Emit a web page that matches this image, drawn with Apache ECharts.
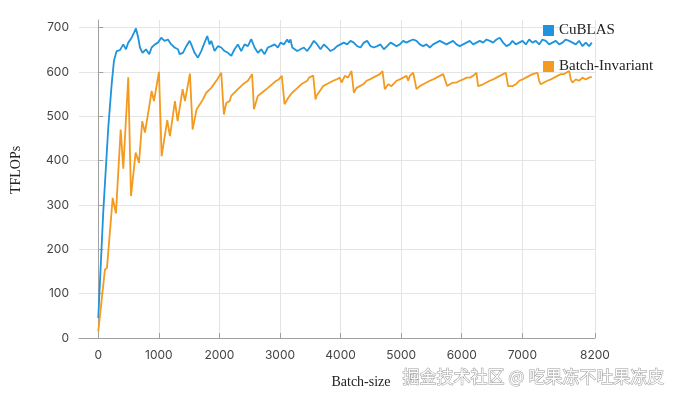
<!DOCTYPE html>
<html>
<head>
<meta charset="utf-8">
<script src="https://cdn.jsdelivr.net/npm/echarts@6/dist/echarts.min.js"></script>
<style>
	html, body { margin: 0; padding: 0; background: #fff; }
	#chart { width: 678px; height: 398px; }
</style>
</head>
<body>
<div id="chart"></div>
<script>
// 刻度
var xTicks = [0, 1000, 2000, 3000, 4000, 5000, 6000, 7000, 8200];
var yTicks = [0, 100, 200, 300, 400, 500, 600, 700];

// CuBLAS
var cublasBatch = [0, 83, 165, 221, 259, 303, 358, 413, 457, 495, 551, 589, 622, 660, 688, 732, 787, 842, 881, 936,
	985, 1040, 1095, 1150, 1205, 1260, 1315, 1343, 1398, 1453, 1508, 1535, 1590, 1645, 1700, 1755, 1799, 1838, 1865, 1920,
	1975, 2030, 2085, 2140, 2195, 2250, 2305, 2360, 2415, 2470, 2525, 2580, 2635, 2690, 2745, 2800, 2855, 2910, 2965,
	3009, 3064, 3119, 3147, 3174, 3202, 3229, 3284, 3339, 3394, 3449, 3504, 3559, 3587, 3614, 3669, 3724, 3779, 3834, 3862,
	3889, 3944, 3999, 4054, 4109, 4164, 4219, 4274, 4329, 4384, 4439, 4494, 4549, 4604, 4659, 4714, 4769, 4824, 4879,
	4923, 4978, 5033, 5088, 5143, 5198, 5226, 5253, 5308, 5363, 5418, 5473, 5528, 5583, 5638, 5693, 5748, 5803, 5858, 5913,
	5968, 5996, 6023, 6078, 6133, 6188, 6243, 6298, 6353, 6408, 6463, 6518, 6573, 6628, 6683, 6738, 6793,
	6838, 6893, 6948, 7003, 7058, 7113, 7168, 7223, 7278, 7333, 7388, 7443, 7498, 7553, 7608, 7663, 7718, 7773, 7828, 7883,
	7938, 7993, 8048, 8103, 8147];
var cublasTflops = [45, 286, 474, 572, 625, 647, 649, 662, 651, 666, 677, 688, 698, 677, 655, 643, 651, 640, 655, 662,
	666, 677, 670, 673, 662, 655, 651, 640, 643, 658, 670, 662, 643, 632, 647, 666, 681, 662, 670, 647,
	658, 655, 647, 643, 636, 651, 662, 647, 662, 658, 674, 655, 643, 651, 640, 655, 658, 662, 655,
	666, 662, 673, 666, 673, 655, 651, 647, 651, 655, 647, 658, 670, 673, 662, 651, 662, 655, 647, 643,
	651, 658, 662, 666, 662, 670, 666, 658, 655, 666, 670, 658, 655, 658, 662, 651, 658, 666, 662,
	658, 662, 670, 666, 670, 673, 677, 670, 662, 658, 662, 655, 662, 666, 670, 666, 662, 666, 670, 662,
	658, 655, 662, 666, 670, 662, 666, 670, 666, 673, 670, 666, 673, 677, 666, 658, 662,
	670, 662, 666, 670, 662, 673, 666, 670, 662, 673, 670, 662, 666, 670, 662, 666, 673, 670, 666, 662,
	670, 658, 666, 658, 666];

// Batch-Invariant
var biBatch = [0, 110, 144, 238, 292, 370, 413, 495, 540, 617, 672, 726, 771, 842, 881, 919, 1002, 1046, 1139, 1183,
	1266, 1310, 1393, 1431, 1513, 1558, 1624, 1678, 1728, 1783, 1865, 1964, 2030, 2074, 2113, 2168, 2195, 2305, 2388, 2470,
	2540, 2570, 2635, 2700, 2800, 2870, 2937, 2980, 3030, 3075, 3100, 3130, 3160, 3200, 3229, 3290, 3350, 3400, 3450, 3480,
	3510, 3548, 3587, 3603, 3658, 3713, 3768, 3823, 3878, 3933, 3988, 4016, 4043, 4070, 4125, 4180, 4219, 4263, 4318, 4373,
	4428, 4483, 4538, 4593, 4648, 4692, 4730, 4785, 4840, 4868, 4923, 4978, 5033, 5088, 5116, 5143, 5198, 5226, 5253, 5308,
	5363, 5418, 5473, 5528, 5583, 5638, 5693, 5721, 5759, 5803, 5858, 5913, 5968, 6023, 6078, 6133, 6188, 6243, 6270, 6298,
	6353, 6408, 6463, 6518, 6573, 6628, 6683, 6727, 6766, 6783, 6838, 6893, 6948, 7003, 7058, 7113, 7168, 7250, 7278, 7305,
	7360, 7415, 7470, 7525, 7580, 7635, 7690, 7773, 7800, 7828, 7883, 7938, 7993, 8048, 8103, 8147];
var biTflops = [15, 154, 158, 316, 281, 470, 382, 588, 320, 418, 395, 489, 463, 523, 557, 534, 600, 410, 491, 455,
	534, 489, 561, 534, 596, 470, 516, 527, 538, 553, 564, 583, 598, 504, 530, 534, 546, 561, 572, 580,
	595, 516, 546, 553, 564, 572, 580, 583, 591, 527, 530, 540, 546, 553, 557, 564, 572, 576, 580, 587,
	585, 592, 538, 546, 557, 568, 572, 576, 580, 583, 587, 576, 583, 591, 587, 602, 553, 564, 568, 572,
	580, 583, 587, 591, 595, 602, 561, 572, 568, 572, 580, 583, 587, 591, 580, 591, 598, 580, 561, 568,
	572, 576, 580, 583, 587, 591, 595, 598, 568, 572, 576, 576, 580, 583, 587, 587, 591, 598, 568, 564,
	572, 576, 580, 583, 587, 591, 595, 598, 568, 564, 568, 572, 580, 583, 587, 591, 595, 598, 580, 572,
	576, 580, 583, 587, 591, 595, 595, 602, 583, 576, 583, 580, 587, 583, 587, 589];

function pairs(xs, ys) {
	return xs.map(function (x, i) {
		return [x, ys[i]];
	});
}

var myChart = echarts.init(document.getElementById("chart"), null, {
	renderer: "canvas"
});

var labelFont = {
	color: "#444",
	fontSize: 12,
	fontFamily: "Inter, sans-serif",
	formatter: function (v) {
		return String(v); // 不要千分位
	}
};
var serif = "'Liberation Serif', 'DejaVu Serif', serif";

var option = {
	animation: false,
	color: ["#1f93dc", "#f39a1f"],
	grid: { left: 79, right: 83, top: 20, bottom: 60 },
	legend: {
		orient: "vertical",
		left: 538,
		top: 18,
		itemWidth: 11,
		itemHeight: 11,
		itemGap: 21,
		icon: "rect",
		textStyle: { fontFamily: serif, fontSize: 15, color: "#222" },
		data: ["CuBLAS", "Batch-Invariant"]
	},
	xAxis: {
		type: "value",
		min: -318,
		max: 8200,
		name: "Batch-size",
		nameLocation: "middle",
		nameGap: 37,
		nameTextStyle: { fontFamily: serif, fontSize: 14, color: "#222", padding: [0, 0, 0, 48] },
		axisLine: { lineStyle: { color: "#a0a0a0" } },
		axisTick: { inside: true, length: 5, lineStyle: { color: "#a0a0a0" }, customValues: xTicks },
		axisLabel: Object.assign({ margin: 11, customValues: xTicks }, labelFont),
		splitLine: { show: true, lineStyle: { color: "#e4e4e4" } }
	},
	yAxis: {
		type: "value",
		min: 0,
		max: 717,
		name: "TFLOPs",
		nameLocation: "middle",
		nameGap: 56,
		nameTextStyle: { fontFamily: serif, fontSize: 14, color: "#222", padding: [0, 0, 0, 18] },
		axisLine: { show: true, lineStyle: { color: "#a0a0a0" } },
		axisTick: { show: true, inside: true, length: 5, lineStyle: { color: "#a0a0a0" }, customValues: yTicks },
		axisLabel: Object.assign({ margin: 10, customValues: yTicks }, labelFont),
		splitLine: { show: true, lineStyle: { color: "#e4e4e4" } }
	},
	graphic: [
		{
			type: "text",
			left: 402,
			top: 368,
			silent: true,
			style: {
				text: "掘金技术社区 @ 吃果冻不吐果冻皮",
				font: "17px 'Noto Sans CJK SC', sans-serif",
				fill: "rgba(255,255,255,0.95)",
				stroke: "#9a9a9a",
				lineWidth: 1
			}
		}
	],
	series: [
		{
			name: "CuBLAS",
			type: "line",
			showSymbol: false,
			lineStyle: { width: 1.8 },
			data: pairs(cublasBatch, cublasTflops)
		},
		{
			name: "Batch-Invariant",
			type: "line",
			showSymbol: false,
			lineStyle: { width: 1.8 },
			data: pairs(biBatch, biTflops)
		}
	]
};
myChart.setOption(option);
</script>
</body>
</html>
